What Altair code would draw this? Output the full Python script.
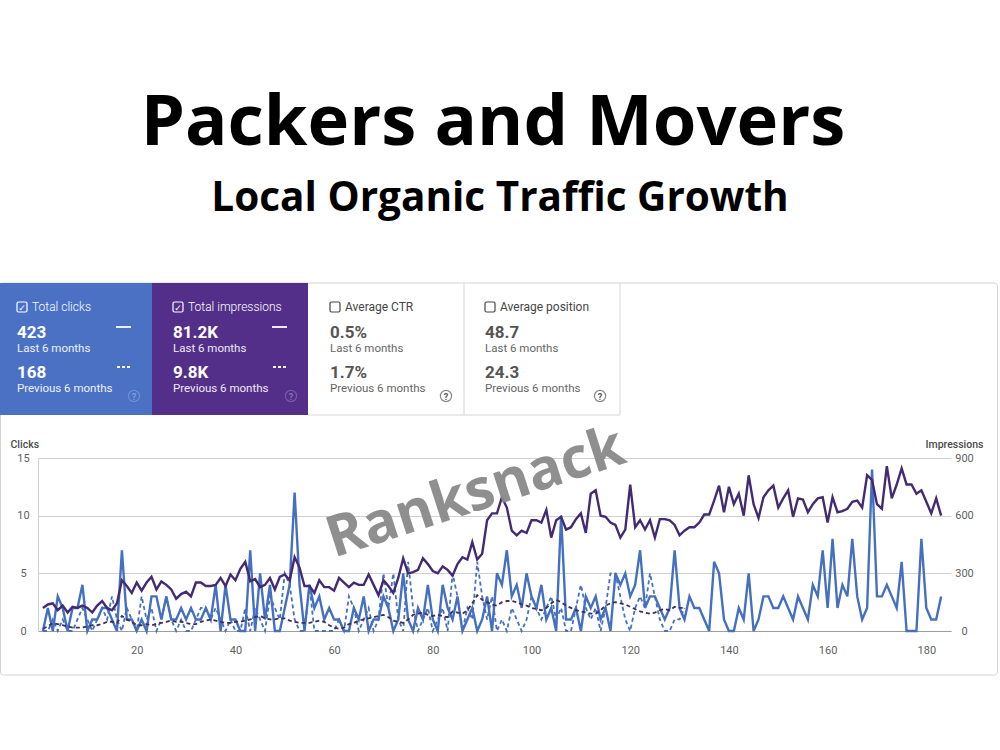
import altair as alt
import pandas as pd

# ---------------- data ----------------
days = list(range(1, 184))
clicks = [0, 2, 0, 3, 2, 0, 2, 2, 4, 0, 1, 1, 2, 2, 1, 0, 7, 1, 1, 0,
          1, 0, 3, 3, 1, 3, 1, 1, 2, 1, 2, 1, 1, 2, 1, 4, 0, 4, 1, 1,
          0, 0, 7, 0, 5, 1, 4, 0, 0, 2, 4, 12, 4, 0, 4, 2, 3, 1, 2, 1,
          1, 0, 0, 2, 1, 3, 0, 1, 1, 3, 2, 0, 1, 5, 1, 0, 2, 1, 4, 1,
          0, 4, 2, 1, 3, 0, 1, 2, 0, 1, 3, 0, 5, 4, 7, 3, 4, 2, 5, 3,
          2, 4, 1, 2, 0, 10, 1, 1, 2, 0, 3, 2, 3, 1, 2, 0, 5, 4, 5, 3,
          4, 7, 2, 3, 3, 2, 1, 2, 7, 2, 1, 3, 2, 2, 1, 0, 6, 5, 1, 0,
          0, 2, 1, 5, 0, 1, 3, 3, 2, 2, 3, 2, 1, 3, 2, 1, 4, 3, 7, 2,
          8, 2, 4, 3, 8, 3, 1, 2, 14, 3, 3, 4, 3, 2, 6, 0, 0, 0, 8, 2,
          1, 1, 3]
impressions = [120, 138, 144, 108, 132, 96, 126, 120, 132, 120, 96, 132, 156, 120, 108, 144,
               264, 234, 198, 252, 210, 252, 282, 216, 258, 240, 216, 168, 192, 204,
               180, 252, 252, 234, 234, 240, 276, 234, 294, 264, 324, 360, 258, 270, 228,
               240, 276, 216, 282, 294, 264,
               384, 330, 234, 234, 198, 264, 228, 228, 210, 276,
               252, 228, 252, 240, 240, 294, 240, 186, 264, 234, 198, 276, 378, 300, 306,
               318, 378, 348, 312, 300, 336, 318, 288, 348, 384, 372, 462, 372, 402,
               576, 612, 612, 696, 642, 522, 498, 522, 510, 576, 576, 564, 630, 486, 576,
               594, 528, 540, 582, 612, 510, 714, 732, 600, 594, 564, 552, 486, 528, 762,
               540, 576, 528, 576, 486, 582, 582,
               576, 552, 498, 522, 540, 540, 564, 606, 606, 678,
               756, 618, 750, 660, 714, 600, 810, 660, 588, 696, 732, 756, 642, 690, 732,
               594, 690, 684, 618, 660, 690, 696, 564, 696, 618, 624, 636, 672, 678, 642,
               810, 786, 660, 636, 858, 690, 762, 846, 762, 762, 714, 732, 672, 612, 690, 600]

prev_days = list(range(1, 132))
clicks_prev = [0, 0, 1, 0, 1, 0, 0, 1, 2, 1,
               0, 1, 2, 1, 3, 1, 0, 2, 1, 0,
               3, 1, 2, 0, 1, 3, 1, 0, 1, 0,
               0, 1, 2, 2, 1, 2, 1, 0, 1, 0,
               0, 2, 0, 2, 1, 0, 3, 2, 1, 5,
               4, 1, 0, 0, 4, 0, 0, 0, 0, 0,
               1, 0, 3, 2, 0, 1, 2, 0, 1, 5,
               2, 5, 1, 0, 6, 2, 0, 1, 2, 0,
               1, 2, 0, 5, 3, 0, 2, 1, 6, 3,
               1, 3, 0, 1, 0, 2, 1, 0, 1, 3,
               2, 1, 2, 3, 1, 2, 0, 0, 2, 4,
               2, 1, 2, 0, 2, 5, 5, 3, 1, 0,
               2, 3, 2, 5, 3, 1, 0, 0, 1, 1, 2]
impressions_prev = [12, 24, 42, 36, 30, 24, 18, 18, 18, 24,
                    30, 30, 36, 48, 48, 42, 78, 60, 48, 30,
                    30, 36, 30, 36, 42, 48, 54, 48, 48, 42,
                    36, 36, 48, 54, 60, 54, 48, 42, 42, 48,
                    48, 54, 60, 72, 78, 66, 60, 60, 66, 66,
                    54, 48, 42, 42, 42, 48, 54, 48, 30, 18,
                    12, 18, 36, 42, 54, 60, 66, 72, 78, 84,
                    72, 54, 48, 42, 60, 84, 90, 96, 84, 78,
                    84, 78, 72, 102, 96, 90, 108, 144, 186, 162,
                    150, 138, 132, 150, 156, 156, 150, 138, 132, 120,
                    114, 108, 120, 144, 162, 150, 132, 120, 108, 102,
                    96, 90, 90, 108, 132, 144, 150, 144, 138, 126,
                    114, 102, 96, 90, 96, 108, 114, 108, 126, 120, 120]

x_ticks = [20, 40, 60, 80, 100, 120, 140, 160, 180]
clicks_ticks = [0, 5, 10, 15]
impr_ticks = [0, 300, 600, 900]

tile_titles = ["Total clicks", "Total impressions", "Average CTR", "Average position"]
tile_last = ["423", "81.2K", "0.5%", "48.7"]
tile_prev = ["168", "9.8K", "1.7%", "24.3"]
period_labels = ["Last 6 months", "Previous 6 months"]

title_text = "Packers and Movers"
subtitle_text = "Local Organic Traffic Growth"
watermark = "Ranksnack"

# ---------------- layout helpers ----------------
OX, OY = 38, 458          # plot origin on the page
W, H = 913, 173
one = pd.DataFrame({"k": [0]})

BLUE = "#4570c2"
PURPLE = "#432a72"
PURPLE_PREV = "#3e2f58"
TILE_BLUE = "#4b71c5"
TILE_PURPLE = "#532f89"


def at(X, Y):
    return dict(x=alt.value(X - OX), y=alt.value(Y - OY))


def text(X, Y, s, size, color, weight="normal", font="Roboto", align="left",
         baseline="alphabetic", angle=None, opacity=1.0):
    kw = dict(text=s, fontSize=size, color=color, fontWeight=weight, font=font,
              align=align, baseline=baseline, opacity=opacity)
    if angle is not None:
        kw["angle"] = angle
    return alt.Chart(one).mark_text(**kw).encode(**at(X, Y))


def rect(X1, Y1, X2, Y2, fill=None, stroke=None, sw=1.0, radius=0):
    kw = dict(fill=fill if fill else "#ffffff", fillOpacity=1 if fill else 0,
              cornerRadius=radius)
    if stroke:
        kw["stroke"] = stroke
        kw["strokeWidth"] = sw
    return alt.Chart(one).mark_rect(**kw).encode(
        x=alt.value(X1 - OX), x2=alt.value(X2 - OX),
        y=alt.value(Y1 - OY), y2=alt.value(Y2 - OY))


def hrule(X1, X2, Y, color, sw=1.0, dash=None):
    kw = dict(color=color, strokeWidth=sw)
    if dash:
        kw["strokeDash"] = dash
    return alt.Chart(one).mark_rule(**kw).encode(
        x=alt.value(X1 - OX), x2=alt.value(X2 - OX), y=alt.value(Y - OY))


def vrule(X, Y1, Y2, color, sw=1.0):
    return alt.Chart(one).mark_rule(color=color, strokeWidth=sw).encode(
        x=alt.value(X - OX), y=alt.value(Y1 - OY), y2=alt.value(Y2 - OY))


def help_icon(X, Y, color):
    c = alt.Chart(one).mark_point(shape="circle", size=125, filled=False,
                                  stroke=color, strokeWidth=1.2).encode(**at(X, Y))
    q = text(X, Y + 0.5, "?", 9, color, weight="bold", align="center", baseline="middle")
    return [c, q]


def checkbox(X, Y, color, checked):
    parts = [rect(X, Y, X + 10, Y + 10, stroke=color, sw=1.2, radius=1.5)]
    if checked:
        parts.append(text(X + 5, Y + 5.5, "✓", 9, color, weight="bold",
                          font="DejaVu Sans", align="center", baseline="middle"))
    return parts


# ---------------- decorations ----------------
deco = []
deco.append(rect(0.5, 283, 997.5, 675, stroke="#d3d3d3", sw=1, radius=3))
deco.append(rect(0, 283, 152, 415, fill=TILE_BLUE))
deco.append(rect(152, 283, 308, 415, fill=TILE_PURPLE))
deco.append(vrule(464, 283, 415, "#d6d6d6"))
deco.append(vrule(620, 283, 415, "#d6d6d6"))
deco.append(hrule(308, 620, 415, "#d6d6d6"))

content_x = [17, 173, 330, 485]
tile_right = [131, 287, 0, 0]
help_x = [134, 291, 446, 600]
fg_title = ["#ffffff", "#ffffff", "#454545", "#454545"]
fg_num = ["#ffffff", "#ffffff", "#555555", "#555555"]
fg_sub = ["#eef2fb", "#efeaf6", "#666666", "#666666"]
fg_help = ["#7f9ddc", "#8a6db5", "#555555", "#555555"]

texts = []
for i in range(4):
    cx = content_x[i]
    texts += checkbox(cx, 302, fg_title[i], i < 2)
    texts.append(text(cx + 15, 311, tile_titles[i], 12, fg_title[i], weight=300 if i < 2 else "normal"))
    texts.append(text(cx, 338, tile_last[i], 17, fg_num[i], weight="bold"))
    texts.append(text(cx, 352, period_labels[0], 11.5, fg_sub[i]))
    texts.append(text(cx, 378, tile_prev[i], 17, fg_num[i], weight="bold"))
    texts.append(text(cx, 392, period_labels[1], 11.5, fg_sub[i]))
    texts += help_icon(help_x[i], 396, fg_help[i])
    if i < 2:
        r = tile_right[i]
        texts.append(hrule(r - 15, r, 327, "#ffffff", sw=1.8))
        texts.append(hrule(r - 14, r, 367, "#ffffff", sw=1.8, dash=[3, 2]))

texts.append(text(493, 145, title_text, 70.5, "#000000", weight="bold", font="Open Sans",
                  align="center"))
texts.append(text(500, 211, subtitle_text, 40.5, "#000000", weight="bold", font="Open Sans",
                  align="center"))

wm = text(481, 510, watermark, 57, "#8a8a8a", weight="bold", font="Open Sans",
          align="center", angle=342, opacity=0.95)

# ---------------- chart lines ----------------
df_cur = pd.DataFrame({"day": days, "clicks": clicks, "impressions": impressions})
df_prev = pd.DataFrame({"day": prev_days, "clicks": clicks_prev,
                        "impressions": impressions_prev})

X = alt.X("day:Q", scale=alt.Scale(domain=[0, 185], nice=False, zero=False),
          axis=alt.Axis(values=x_ticks, grid=False, ticks=False, domain=True,
                        domainColor="#9e9e9e", domainWidth=1, labelColor="#5f5f5f",
                        labelFont="Roboto", labelFontSize=11, labelPadding=13,
                        title=None))

YC = alt.Y("clicks:Q", scale=alt.Scale(domain=[0, 15], nice=False),
           axis=alt.Axis(values=clicks_ticks, orient="left", grid=True,
                         gridColor="#d0d0d0", ticks=False, domain=True,
                         domainColor="#d0d0d0", labelAlign="center", labelPadding=15,
                         labelColor="#5f5f5f", labelFont="Roboto", labelFontSize=11,
                         title="Clicks", titleAngle=0, titleAlign="left",
                         titleBaseline="middle", titleX=-28, titleY=-14,
                         titleFont="Roboto", titleFontSize=10.5, titleFontWeight=500,
                         titleColor="#4a4a4a"))

YI = alt.Y("impressions:Q", scale=alt.Scale(domain=[0, 900], nice=False),
           axis=alt.Axis(values=impr_ticks, orient="right", grid=False, ticks=False,
                         domain=False, labelAlign="center", labelPadding=13,
                         labelColor="#5f5f5f", labelFont="Roboto", labelFontSize=11,
                         title="Impressions", titleAngle=0, titleAlign="right",
                         titleBaseline="middle", titleX=32, titleY=-14,
                         titleFont="Roboto", titleFontSize=10.5, titleFontWeight=500,
                         titleColor="#4a4a4a"))

clicks_layer = alt.layer(
    alt.Chart(df_prev).mark_line(color=BLUE, strokeWidth=1.8, strokeDash=[4, 3]).encode(x=X, y=YC),
    alt.Chart(df_cur).mark_line(color=BLUE, strokeWidth=2.4).encode(x=X, y=YC),
)
impr_layer = alt.layer(
    alt.Chart(df_prev).mark_line(color=PURPLE_PREV, strokeWidth=1.8, strokeDash=[4, 3]).encode(x=X, y=YI),
    alt.Chart(df_cur).mark_line(color=PURPLE, strokeWidth=2.4).encode(x=X, y=YI),
)

chart = alt.layer(*deco, clicks_layer, impr_layer, *texts, wm).resolve_scale(
    y="independent"
).properties(
    width=W, height=H,
    padding={"left": OX, "top": OY, "right": 1000 - OX - W, "bottom": 750 - OY - H},
    autosize=alt.AutoSizeParams(type="none"),
    background="white",
).configure_view(strokeWidth=0)

chart.save("out.html", embed_options={"renderer": "svg", "actions": False})
